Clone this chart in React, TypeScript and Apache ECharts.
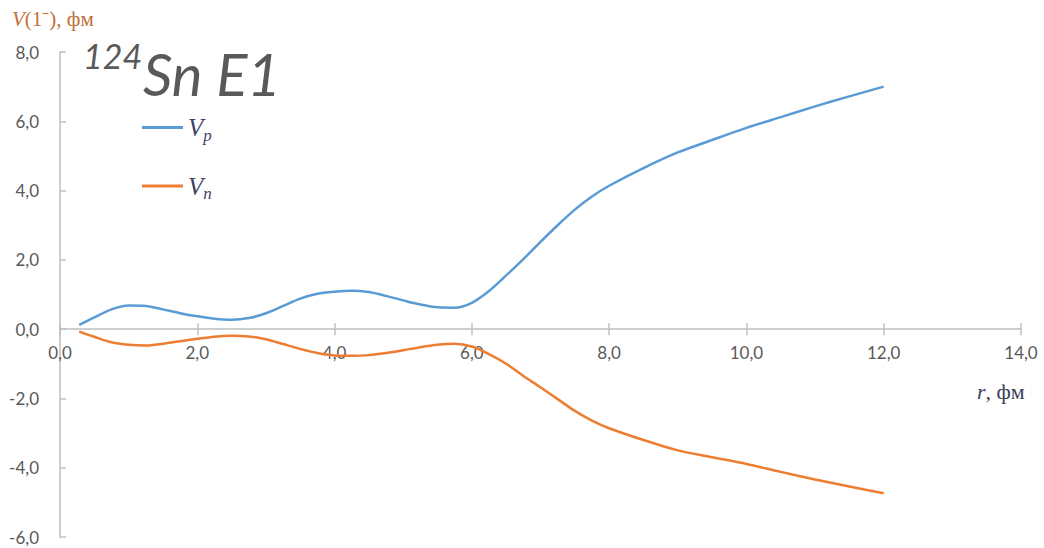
import React, { useEffect, useRef } from "react";
import * as echarts from "echarts";

// Radius (fm) and the E1 transition potentials for protons and neutrons
const radius = [0.28, 0.5, 0.75, 1.0, 1.25, 1.5, 1.75, 2.0, 2.25, 2.5, 2.75, 3.0, 3.25, 3.5, 3.75, 4.0, 4.25, 4.5, 4.75, 5.0, 5.25, 5.5, 5.75, 6.0, 6.25, 6.5, 6.75, 7.0, 7.25, 7.5, 7.75, 8.0, 8.5, 9.0, 9.5, 10.0, 10.5, 11.0, 11.5, 12.0];
const vProton = [0.12, 0.34, 0.57, 0.68, 0.67, 0.57, 0.46, 0.37, 0.3, 0.27, 0.32, 0.46, 0.67, 0.88, 1.02, 1.08, 1.11, 1.07, 0.96, 0.83, 0.71, 0.63, 0.62, 0.76, 1.1, 1.55, 2.02, 2.52, 3.0, 3.45, 3.83, 4.14, 4.65, 5.1, 5.46, 5.81, 6.12, 6.43, 6.72, 7.0];
const vNeutron = [-0.07, -0.22, -0.38, -0.45, -0.47, -0.42, -0.35, -0.28, -0.22, -0.19, -0.21, -0.29, -0.43, -0.57, -0.69, -0.76, -0.77, -0.75, -0.69, -0.61, -0.52, -0.45, -0.42, -0.5, -0.72, -1.0, -1.35, -1.68, -2.02, -2.36, -2.64, -2.86, -3.2, -3.5, -3.7, -3.89, -4.12, -4.34, -4.54, -4.74];

const seriesNames = ["Vp", "Vn"];
const seriesSubscripts = ["p", "n"];
const seriesColors = ["#5B9BD5", "#ED7D31"];

const xMin = 0, xMax = 14, xStep = 2;
const yMin = -6, yMax = 8, yStep = 2;

const fmt = (v: number) => v.toFixed(1).replace(".", ",");

const W = 1044, H = 548;
const PLOT = { left: 60, right: 23, top: 52, bottom: 11 };

export default function App() {
  const ref = useRef<HTMLDivElement>(null);

  useEffect(() => {
    if (!ref.current) return;
    const chart = echarts.init(ref.current, undefined, { renderer: "svg" });
    const axisGrey = "#BFBFBF";
    const labelGrey = "#595959";
    const uiFont = "Lato";

    // pixel row of V = 0 inside the plot box; the r axis sits on that row
    const plotH = H - PLOT.top - PLOT.bottom;
    const zeroRow = PLOT.top + (yMax / (yMax - yMin)) * plotH;
    const mainBox = { ...PLOT, containLabel: false, outerBoundsMode: "none" };
    const axisBox = { left: PLOT.left, right: PLOT.right, top: PLOT.top, bottom: H - zeroRow, containLabel: false, outerBoundsMode: "none" };

    const pair = (ys: number[]) => radius.map((x, i) => [x, ys[i]]);
    const hiddenY = (gridIndex: number) => ({
      type: "value", gridIndex, min: yMin, max: yMax, interval: yStep, show: false,
    });

    chart.setOption({
      animation: false,
      backgroundColor: "#FFFFFF",
      grid: [mainBox, axisBox, { ...axisBox }],
      xAxis: [
        {
          type: "value",
          gridIndex: 0,
          min: xMin,
          max: xMax,
          interval: xStep,
          show: false,
        },
        {
          type: "value",
          gridIndex: 1,
          min: xMin,
          max: xMax,
          interval: xStep,
          position: "bottom",
          axisLine: { onZero: false, lineStyle: { color: axisGrey, width: 1.5 } },
          axisTick: { show: true, inside: false, length: 6, lineStyle: { color: axisGrey, width: 1.5 } },
          axisLabel: { formatter: fmt, color: labelGrey, fontFamily: uiFont, fontSize: 17, margin: 15 },
          splitLine: { show: false },
        },
        {
          type: "value",
          gridIndex: 2,
          min: xMin,
          max: xMax,
          interval: xStep,
          position: "bottom",
          axisLine: { show: false, onZero: false },
          axisTick: { show: true, inside: true, length: 6, lineStyle: { color: axisGrey, width: 1.5 } },
          axisLabel: { show: false },
          splitLine: { show: false },
        },
      ],
      yAxis: [
        {
          type: "value",
          gridIndex: 0,
          min: yMin,
          max: yMax,
          interval: yStep,
          axisLine: { show: true, onZero: false, lineStyle: { color: axisGrey, width: 1.5 } },
          axisTick: { show: true, inside: true, length: 6, lineStyle: { color: axisGrey, width: 1.5 } },
          axisLabel: { formatter: fmt, color: labelGrey, fontFamily: uiFont, fontSize: 17, margin: 21 },
          splitLine: { show: false },
        },
        hiddenY(1),
        hiddenY(2),
      ],
      legend: {
        orient: "vertical",
        left: 137,
        top: 110,
        icon: "rect",
        itemWidth: 41,
        itemHeight: 3,
        itemGap: 30,
        data: seriesNames,
        formatter: (name: string) => `{v|V}{s|${seriesSubscripts[seriesNames.indexOf(name)]}}`,
        textStyle: {
          rich: {
            v: { fontFamily: "Liberation Serif", fontStyle: "italic", fontSize: 25, color: "#3B4563", lineHeight: 32 },
            s: { fontFamily: "Liberation Serif", fontStyle: "italic", fontSize: 17, color: "#3B4563", lineHeight: 17, verticalAlign: "bottom" },
          },
        },
      },
      series: [
        {
          name: seriesNames[0],
          type: "line",
          xAxisIndex: 0,
          yAxisIndex: 0,
          data: pair(vProton),
          smooth: 0.3,
          showSymbol: false,
          lineStyle: { color: seriesColors[0], width: 2.5 },
          itemStyle: { color: seriesColors[0] },
        },
        {
          name: seriesNames[1],
          type: "line",
          xAxisIndex: 0,
          yAxisIndex: 0,
          data: pair(vNeutron),
          smooth: 0.3,
          showSymbol: false,
          lineStyle: { color: seriesColors[1], width: 2.5 },
          itemStyle: { color: seriesColors[1] },
        },
      ],
      graphic: [
        {
          type: "text",
          left: 12,
          top: 8,
          style: {
            text: "{i|V}{n|(1⁻), фм}",
            rich: {
              i: { fontFamily: "Liberation Serif", fontStyle: "italic", fontSize: 21, fill: "#C0703A" },
              n: { fontFamily: "Liberation Serif", fontSize: 21, fill: "#C0703A" },
            },
          },
        },
        {
          type: "text",
          left: 977,
          top: 380,
          style: {
            text: "{i|r}{n|, фм}",
            rich: {
              i: { fontFamily: "Liberation Serif", fontStyle: "italic", fontSize: 22, fill: "#40405A" },
              n: { fontFamily: "Liberation Serif", fontSize: 22, fill: "#40405A" },
            },
          },
        },
        {
          type: "text",
          left: 83,
          top: 38,
          style: { text: "124", fontFamily: uiFont, fontStyle: "italic", fontSize: 34, fill: labelGrey },
        },
        {
          type: "text",
          left: 143,
          top: 44,
          style: { text: "Sn E1", fontFamily: uiFont, fontStyle: "italic", fontSize: 58, fill: labelGrey },
        },
      ],
    });

    return () => chart.dispose();
  }, []);

  return (
    <div
      ref={ref}
      style={{ position: "fixed", left: 0, top: 0, width: W, height: H, background: "#fff" }}
    />
  );
}
